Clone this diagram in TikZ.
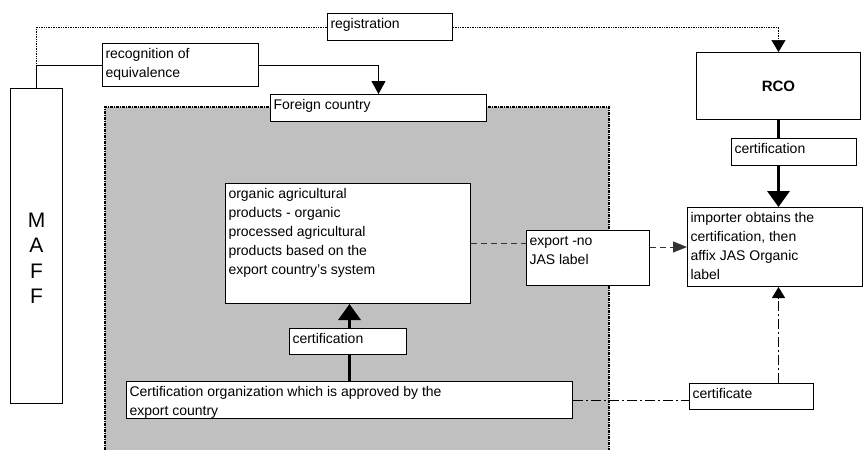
\documentclass[tikz,border=0pt]{standalone}
\usepackage{fontspec}
\setmainfont{Liberation Sans}
\usetikzlibrary{calc}
\usetikzlibrary{arrows.meta}

\definecolor{boxgray}{HTML}{C0C0C0}
\newcommand{\boxtext}[3]{\parbox[c][\dimexpr #2pt-4pt\relax][t]{\dimexpr #1pt-6pt\relax}{\raggedright\strut #3}}

\tikzset{
  txtbox/.style={draw, fill=white, line width=1pt, anchor=north west, inner xsep=3pt, inner ysep=2pt},
  thinarr/.style={-{Triangle[length=12pt,width=12pt]}},
  thickarr/.style={line width=3.5pt, -{Triangle[length=16pt,width=22pt]}},
  dashdot/.style={line width=1pt, dash pattern=on 10pt off 3pt on 2pt off 3pt},
}

\begin{document}
\begin{tikzpicture} [x=1pt, y=-1pt, font=\fontsize{14}{19}\selectfont]
\useasboundingbox (0,0) rectangle (863,450);

\fill[boxgray] (105,107) rectangle (609,450);
\draw[line width=1.3pt, dash pattern=on 3pt off 1pt on 1pt off 1pt] (105,450) -- (105,107) -- (609,107) -- (609,450);

\node[txtbox] (reg) at (327,13) {\boxtext{125}{27}{registration}};
\node[txtbox] (recog) at (102,43) {\boxtext{156}{43}{recognition of\\equivalence}};
\node[txtbox, font=\fontsize{21}{25.5}\selectfont] (maff) at (10,88) {\parbox[c][311pt][t]{46pt}{\centering\vspace*{119pt}\strut M\\A\\F\\F}};
\node[txtbox] (foreign) at (270,94) {\boxtext{216}{27}{Foreign country}};
\node[txtbox, minimum width=164pt, minimum height=67pt, font=\bfseries\fontsize{15}{18}\selectfont] (rco) at (696,52) {RCO};
\node[txtbox] (imp) at (687,207) {\boxtext{175}{79}{importer obtains the\\certification, then\\affix JAS Organic\\label}};
\node[txtbox] (export) at (526,230) {\boxtext{123}{55}{export -no\\JAS label}};
\node[txtbox] (organic) at (225,183) {\boxtext{245}{120}{organic agricultural\\products - organic\\processed agricultural\\products based on the\\export country's system}};
\node[txtbox] (certorg) at (126,381) {\boxtext{446}{37}{Certification organization which is approved by the\\export country}};
\node[txtbox] (certificate) at (689,383) {\boxtext{124}{26}{certificate}};

\draw[line width=.7pt, densely dotted] (reg.west) -| (maff.north);
\draw[line width=.7pt, densely dotted, -{Triangle[length=12pt,width=14pt]}] (reg.east) -| (rco.north);
\draw[line width=1pt] (maff.north) |- (recog.west);
\draw[line width=1pt, -{Triangle[length=13pt,width=14pt]}] (recog.east) -| (foreign.north);

\draw[thickarr] (rco.south) -- (imp.north -| rco.south);
\draw[thickarr] (certorg.north) -- (organic.south -| certorg.north);

\draw[line width=1pt, black!80, dash pattern=on 6pt off 4pt] (organic.east) -- (organic.east -| export.west);
\draw[line width=1pt, black!80, dash pattern=on 6pt off 4pt, -{Triangle[length=14pt,width=11pt]}] (imp.west -| export.east) -- (imp.west);

\draw[dashdot] (certorg.east) -- (certorg.east -| certificate.west);
\draw[dashdot, -{Triangle[length=11pt,width=13pt]}] (certificate.north -| rco.south) -- (imp.south -| rco.south);

\node[txtbox] (certa) at (731,138) {\boxtext{125}{27}{certification}};
\node[txtbox] (certb) at (289,328) {\boxtext{117}{26}{certification}};
\end{tikzpicture}
\end{document}
